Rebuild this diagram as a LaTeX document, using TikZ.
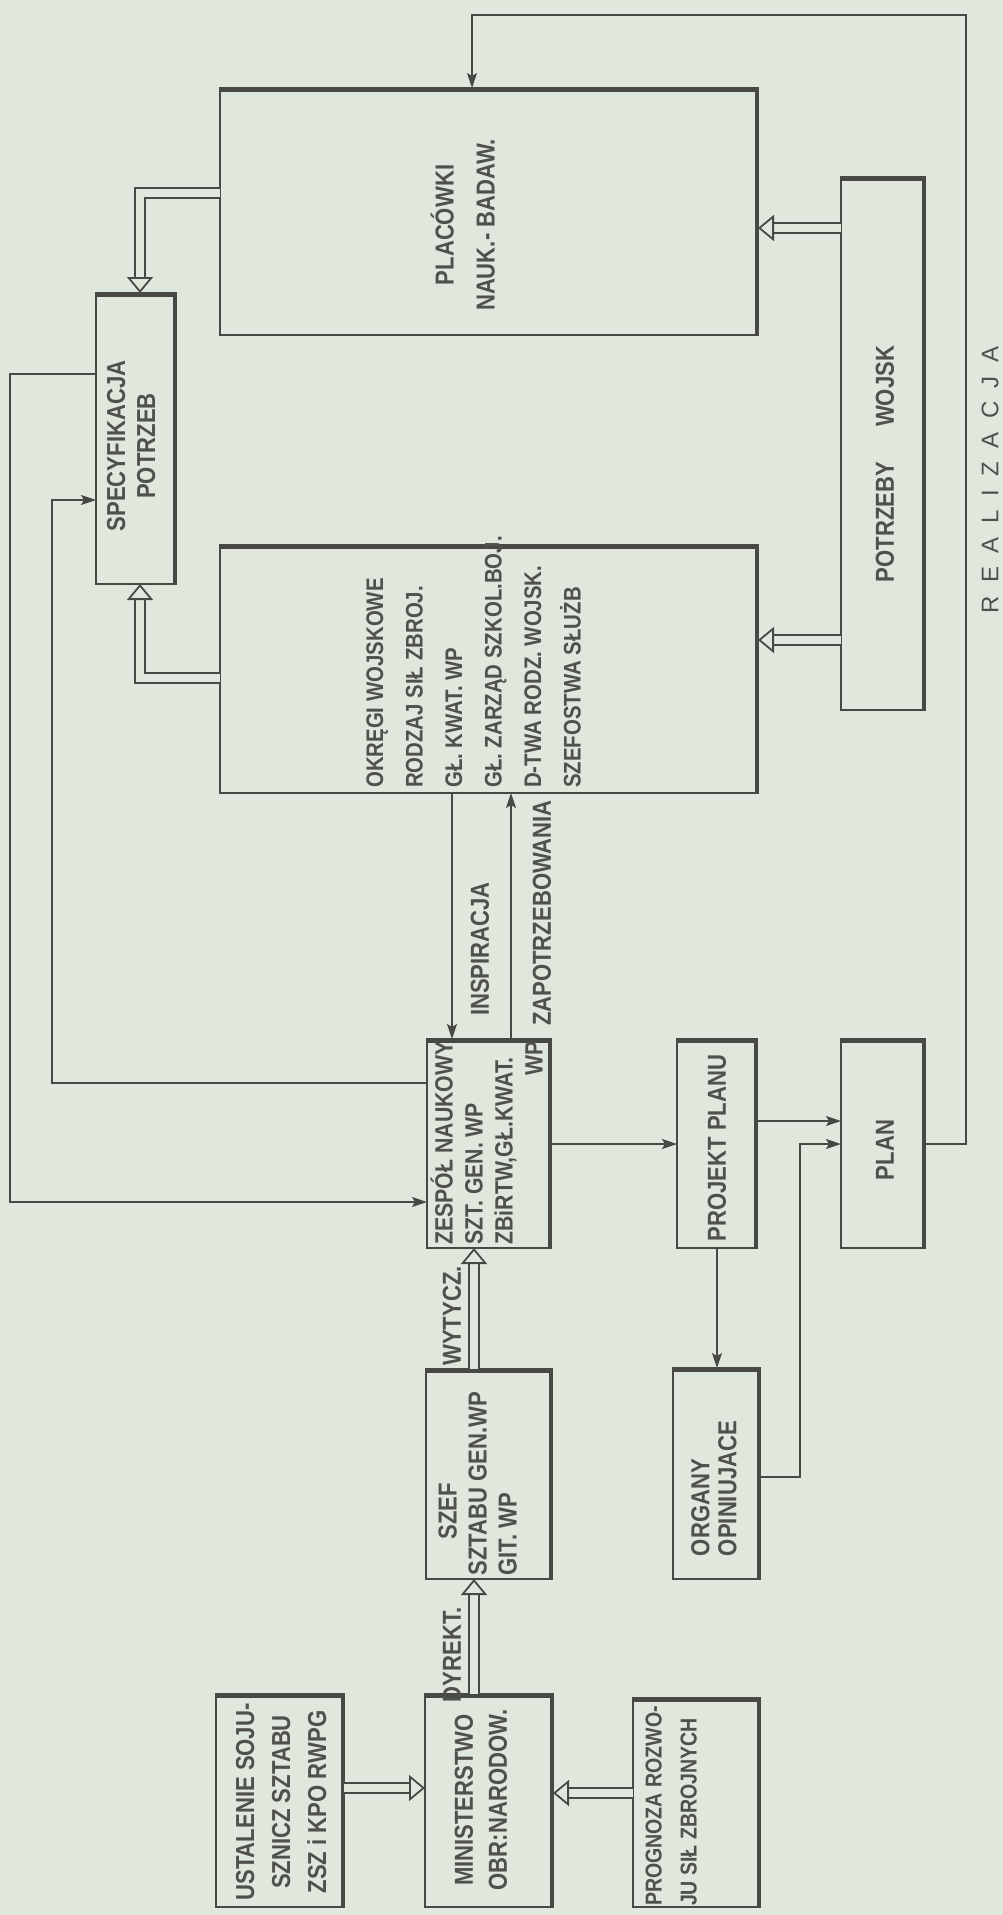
\documentclass[tikz,border=0pt]{standalone}
\usepackage{fontspec}
\setmainfont{Liberation Sans Bold}[FakeStretch=0.85]
\newfontfamily\widefont{Liberation Sans}
\usetikzlibrary{arrows.meta}
\definecolor{bg}{RGB}{224,231,221}
\definecolor{ink}{RGB}{72,72,68}
\definecolor{tink}{RGB}{80,80,76}
\newcommand\lsp{\hspace{13.5pt}}
\begin{document}
\begin{tikzpicture}[x=1pt,y=-1pt,
  box/.style={draw=ink,line width=2.2pt,inner sep=0pt,outer sep=0pt},
  txt/.style={rotate=90,text=tink,inner sep=0pt,font=\fontsize{26}{#1}\selectfont},
  txt/.default=35,
  arr/.style={draw=ink,line width=1.5pt,-{Stealth[length=15pt,width=10pt,inset=3pt]}},
  dbl/.style={draw=ink,double=bg,double distance=8pt,line width=1.8pt,
    -{Triangle[open,length=16pt,width=26pt,line width=1.8pt]}},
  shadowline/.style={draw=ink,line width=2.6pt}
]
\fill[bg] (0,0) rectangle (1003,1915);
\useasboundingbox (0,0) rectangle (1003,1915);

% boxes
\node[box,minimum width=538pt,minimum height=247pt] (plac) at (489,211.5) {};
\node[box,minimum width=84pt,minimum height=533pt] (potr) at (883,443.5) {};
\node[box,minimum width=80pt,minimum height=291pt] (spec) at (136,438.5) {};
\node[box,minimum width=538pt,minimum height=248pt] (okr) at (489,669) {};
\node[box,minimum width=124pt,minimum height=209pt] (zesp) at (489,1143.5) {};
\node[box,minimum width=80pt,minimum height=209pt] (proj) at (717,1143.5) {};
\node[box,minimum width=84pt,minimum height=209pt] (plan) at (883,1143.5) {};
\node[box,minimum width=126pt,minimum height=210pt] (szef) at (489,1474) {};
\node[box,minimum width=87pt,minimum height=211pt] (org) at (716.5,1473.5) {};
\node[box,minimum width=128pt,minimum height=213pt] (ust) at (280,1800.5) {};
\node[box,minimum width=128pt,minimum height=213pt] (min) at (489,1800.5) {};
\node[box,minimum width=127pt,minimum height=209pt] (prog) at (696.5,1802.5) {};

\foreach \n in {plac,potr,spec,okr,zesp,proj,plan,szef,org,ust,min,prog}
  \draw[shadowline] ([xshift=1pt,yshift=-2.2pt]\n.north west) -- ([xshift=-2.2pt,yshift=-2.2pt]\n.north east) -- ([xshift=-2.2pt,yshift=1pt]\n.south east);

% texts in boxes
\node[txt=41] (tplac) at (466,225) {\begin{tabular}{@{}c@{}}PLACÓWKI\\NAUK.- BADAW.\end{tabular}};
\node[txt] (tpotr) at (885,464) {POTRZEBY\hspace{35pt}WOJSK};
\node[txt=30] (tspec) at (134,446) {\begin{tabular}{@{}c@{}}SPECYFIKACJA\\POTRZEB\end{tabular}};
\node[txt=39.5,font=\fontsize{24}{39.5}\selectfont] (tokr) at (474,662) {\begin{tabular}{@{}l@{}}OKRĘGI WOJSKOWE\\RODZAJ SIŁ ZBROJ.\\GŁ. KWAT. WP\\GŁ. ZARZĄD SZKOL.BOJ.\\D-TWA RODZ. WOJSK.\\SZEFOSTWA SŁUŻB\end{tabular}};
\node[txt=30,font=\fontsize{25}{30}\selectfont] (tzesp) at (491,1143) {\begin{tabular}{@{}l@{}}ZESPÓŁ NAUKOWY\\SZT. GEN. WP\\ZBiRTW,GŁ.KWAT.\\\multicolumn{1}{@{}r@{}}{WP}\end{tabular}};
\node[txt] (tproj) at (717,1148) {PROJEKT PLANU};
\node[txt] (tplan) at (885,1150) {PLAN};
\node[txt=30] (tszef) at (480.5,1483.5) {\begin{tabular}{@{}l@{}}\hspace*{36pt}SZEF\\SZTABU GEN.WP\\GIT. WP\end{tabular}};
\node[txt=27] (torg) at (717.5,1488.5) {\begin{tabular}{@{}l@{}}ORGANY\\OPINIUJACE\end{tabular}};
\node[txt=36] (tust) at (283,1802) {\begin{tabular}{@{}c@{}}USTALENIE SOJU-\\SZNICZ SZTABU\\ZSZ i KPO RWPG\end{tabular}};
\node[txt=34] (tmin) at (483,1800) {\begin{tabular}{@{}c@{}}MINISTERSTWO\\OBR:NARODOW.\end{tabular}};
\node[txt=35,font=\fontsize{23}{35}\selectfont] (tprog) at (672,1806) {\begin{tabular}{@{}l@{}}PROGNOZA ROZWO-\\JU SIŁ ZBROJNYCH\end{tabular}};

% connector labels
\node[txt] (ldyr) at (452,1655) {DYREKT.};
\node[txt] (lwyt) at (452,1316) {WYTYCZ.};
\node[txt] (lins) at (480,949) {INSPIRACJA};
\node[txt] (lzap) at (542,913) {ZAPOTRZEBOWANIA};
\node[rotate=90,text=tink,inner sep=0pt,font=\widefont\fontsize{24}{28}\selectfont] (lrea) at (990,480) {R\lsp E\lsp A\lsp L\lsp I\lsp Z\lsp A\lsp C\lsp J\lsp A};

% double arrows
\draw[dbl] (ust.east |- 0,1788) -- (min.west |- 0,1788);
\draw[dbl] (prog.west |- 0,1793) -- (min.east |- 0,1793);
\draw[dbl] (min.north -| 474,0) -- (szef.south -| 474,0);
\draw[dbl] (szef.north -| 474,0) -- (zesp.south -| 474,0);
\draw[dbl] (okr.west |- 0,678) -| (spec.south -| 140,0);
\draw[dbl] (plac.west |- 0,193) -| (spec.north -| 140,0);
\draw[dbl] (potr.west |- 0,228) -- (plac.east |- 0,228);
\draw[dbl] (potr.west |- 0,640) -- (okr.east |- 0,640);

% single arrows
\draw[arr] (okr.south -| 452,0) -- (zesp.north -| 452,0);
\draw[arr] (zesp.north -| 511,0) -- (okr.south -| 511,0);
\draw[arr] (zesp.east |- 0,1144) -- (proj.west |- 0,1144);
\draw[arr] (proj.south) -- (proj.south |- org.north);
\draw[arr] (proj.east |- 0,1121) -- (plan.west |- 0,1121);
\draw[arr] (org.east |- 0,1477) -| (800,1144) -- (plan.west |- 0,1144);
\draw[arr] (plan.east |- 0,1144) -| (966,15) -| (plac.north -| 472,0);
\draw[arr] (zesp.west |- 0,1083) -| (52,500) -- (spec.west |- 0,500);
\draw[arr] (spec.west |- 0,374) -| (10,1202) -- (zesp.west |- 0,1202);
\end{tikzpicture}
\end{document}
